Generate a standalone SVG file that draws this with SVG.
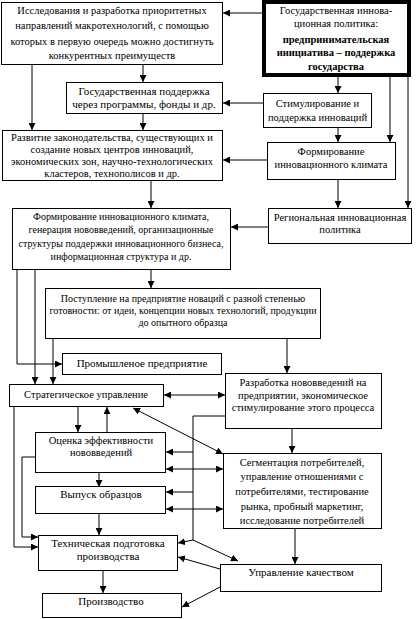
<svg xmlns="http://www.w3.org/2000/svg" width="417" height="619" viewBox="0 0 417 619">
<style>
.b{fill:#fff;stroke:#000;stroke-width:1}
.t{font-family:"Liberation Serif","Times New Roman",serif;font-size:10.5px;fill:#000;text-anchor:middle}
.s{font-size:10px}
.l{font-size:11px}
.bd{font-weight:bold}
.c path{fill:none;stroke:#000;stroke-width:1}
</style>
<defs>
<marker id="a" viewBox="0 0 10 10" refX="10" refY="5" markerWidth="7" markerHeight="7" markerUnits="userSpaceOnUse" orient="auto-start-reverse"><path d="M0,0L10,5L0,10z" fill="#000"/></marker>
</defs>
<rect width="417" height="619" fill="#fff"/>
<g class="c">
<path d="M262,13H223" marker-end="url(#a)"/>
<path d="M32,64V130" marker-end="url(#a)"/>
<path d="M143,64V82" marker-end="url(#a)"/>
<path d="M143,114V130" marker-end="url(#a)"/>
<path d="M338,77V93" marker-end="url(#a)"/>
<path d="M263,103H223" marker-end="url(#a)"/>
<path d="M390,77V142" marker-end="url(#a)"/>
<path d="M338,128V142" marker-end="url(#a)"/>
<path d="M267,160H223" marker-end="url(#a)"/>
<path d="M408,77V208" marker-end="url(#a)"/>
<path d="M338,180V208" marker-end="url(#a)"/>
<path d="M151,181V208" marker-end="url(#a)"/>
<path d="M268,227H231" marker-end="url(#a)"/>
<path d="M151,270V288" marker-end="url(#a)"/>
<path d="M17,270V364H62" marker-end="url(#a)"/>
<path d="M35,270V384" marker-end="url(#a)"/>
<path d="M53,339V384" marker-end="url(#a)"/>
<path d="M287,339V373" marker-end="url(#a)"/>
<path d="M164,395H225" marker-start="url(#a)" marker-end="url(#a)"/>
<path d="M78,407V432" marker-end="url(#a)"/>
<path d="M107,432V407" marker-end="url(#a)"/>
<path d="M133,408L223,454" marker-start="url(#a)" marker-end="url(#a)"/>
<path d="M225,416H193V540"/>
<path d="M193,452H166" marker-end="url(#a)"/>
<path d="M166,469H223" marker-start="url(#a)" marker-end="url(#a)"/>
<path d="M193,492H166" marker-end="url(#a)"/>
<path d="M166,509H223" marker-start="url(#a)" marker-end="url(#a)"/>
<path d="M193,540L178,543" marker-end="url(#a)"/>
<path d="M193,540L238,561" marker-end="url(#a)"/>
<path d="M292,428V453" marker-end="url(#a)"/>
<path d="M99,472V487" marker-end="url(#a)"/>
<path d="M99,514V535" marker-end="url(#a)"/>
<path d="M14,407V547H38" marker-end="url(#a)"/>
<path d="M36,457H22V537H38" marker-end="url(#a)"/>
<path d="M295,528V564" marker-end="url(#a)"/>
<path d="M220,569L178,557" marker-end="url(#a)"/>
<path d="M220,587L182,607" marker-end="url(#a)"/>
<path d="M103,570V593" marker-end="url(#a)"/>
</g>
<g id="n1">
<rect class="b" x="1.5" y="2.5" width="221" height="62"/>
<text class="t" x="112" y="14">Исследования и разработка приоритетных</text>
<text class="t" x="112" y="29">направлений макротехнологий, с помощью</text>
<text class="t" x="112" y="45">которых в первую очередь  можно достигнуть</text>
<text class="t" x="112" y="59">конкурентных преимуществ</text>
</g>
<g id="gov">
<rect x="264" y="2" width="145" height="73" fill="#fff" stroke="#000" stroke-width="4"/>
<text class="t" x="336" y="14">Государственная иннова-</text>
<text class="t" x="336" y="27">ционная политика:</text>
<text class="t bd" x="336" y="43">предпринимательская</text>
<text class="t bd" x="336" y="56">инициатива – поддержка</text>
<text class="t bd" x="336" y="70">государства</text>
</g>
<g id="n2">
<rect class="b" x="66.5" y="82.5" width="156" height="31"/>
<text class="t l" x="144" y="95">Государственная поддержка</text>
<text class="t l" x="144" y="108">через программы, фонды и др.</text>
</g>
<g id="n3">
<rect class="b" x="263.5" y="93.5" width="108" height="34"/>
<text class="t" x="317.5" y="107">Стимулирование и</text>
<text class="t" x="317.5" y="121">поддержка инноваций</text>
</g>
<g id="n4">
<rect class="b" x="2.5" y="130.5" width="220" height="50"/>
<text class="t" x="112" y="141">Развитие законодательства, существующих и</text>
<text class="t" x="112" y="153">создание новых центров инноваций,</text>
<text class="t" x="112" y="165">экономических зон, научно-технологических</text>
<text class="t" x="112" y="177">кластеров, технополисов и др.</text>
</g>
<g id="n5">
<rect class="b" x="267.5" y="142.5" width="128" height="37"/>
<text class="t" x="331" y="155">Формирование</text>
<text class="t" x="331" y="168">инновационного климата</text>
</g>
<g id="n6">
<rect class="b" x="12.5" y="208.5" width="218" height="61"/>
<text class="t s" x="121" y="220">Формирование  инновационного климата,</text>
<text class="t s" x="121" y="233">генерация  нововведений, организационные</text>
<text class="t s" x="121" y="247">структуры поддержки инновационного бизнеса,</text>
<text class="t s" x="121" y="260">информационная структура и др.</text>
</g>
<g id="n7">
<rect class="b" x="268.5" y="208.5" width="143" height="35"/>
<text class="t" x="340" y="221">Региональная инновационная</text>
<text class="t" x="340" y="233">политика</text>
</g>
<g id="n8">
<rect class="b" x="45.5" y="288.5" width="275" height="50"/>
<text class="t s" x="183" y="302">Поступление на предприятие новаций с разной степенью</text>
<text class="t s" x="183" y="314">готовности: от идеи, концепции новых технологий, продукции</text>
<text class="t s" x="183" y="326">до опытного образца</text>
</g>
<g id="n9">
<rect class="b" x="62.5" y="353.5" width="159" height="21"/>
<text class="t l" x="142" y="367">Промышленое предприятие</text>
</g>
<g id="n10">
<rect class="b" x="9.5" y="384.5" width="154" height="22"/>
<text class="t" x="86" y="398">Стратегическое управление</text>
</g>
<g id="n11">
<rect class="b" x="225.5" y="373.5" width="156" height="55"/>
<text class="t" x="303" y="386">Разработка нововведений на</text>
<text class="t" x="303" y="399">предприятии, экономическое</text>
<text class="t" x="303" y="411">стимулирование этого процесса</text>
</g>
<g id="n12">
<rect class="b" x="35.5" y="432.5" width="130" height="40"/>
<text class="t" x="101" y="444">Оценка эффективности</text>
<text class="t" x="101" y="456">нововведений</text>
</g>
<g id="n13">
<rect class="b" x="223.5" y="453.5" width="158" height="75"/>
<text class="t" x="302" y="466">Сегментация потребителей,</text>
<text class="t" x="302" y="480">управление отношениями с</text>
<text class="t" x="302" y="495">потребителями, тестирование</text>
<text class="t" x="302" y="510">рынка, пробный маркетинг,</text>
<text class="t" x="302" y="524">исследование потребителей</text>
</g>
<g id="n14">
<rect class="b" x="35.5" y="486.5" width="130" height="27"/>
<text class="t l" x="101" y="498">Выпуск образцов</text>
</g>
<g id="n15">
<rect class="b" x="38.5" y="535.5" width="139" height="35"/>
<text class="t l" x="108" y="547">Техническая подготовка</text>
<text class="t l" x="108" y="560">производства</text>
</g>
<g id="n16">
<rect class="b" x="220.5" y="564.5" width="161" height="27"/>
<text class="t l" x="301" y="576">Управление качеством</text>
</g>
<g id="n17">
<rect class="b" x="42.5" y="593.5" width="139" height="24"/>
<text class="t l" x="111" y="605">Производство</text>
</g>
</svg>
